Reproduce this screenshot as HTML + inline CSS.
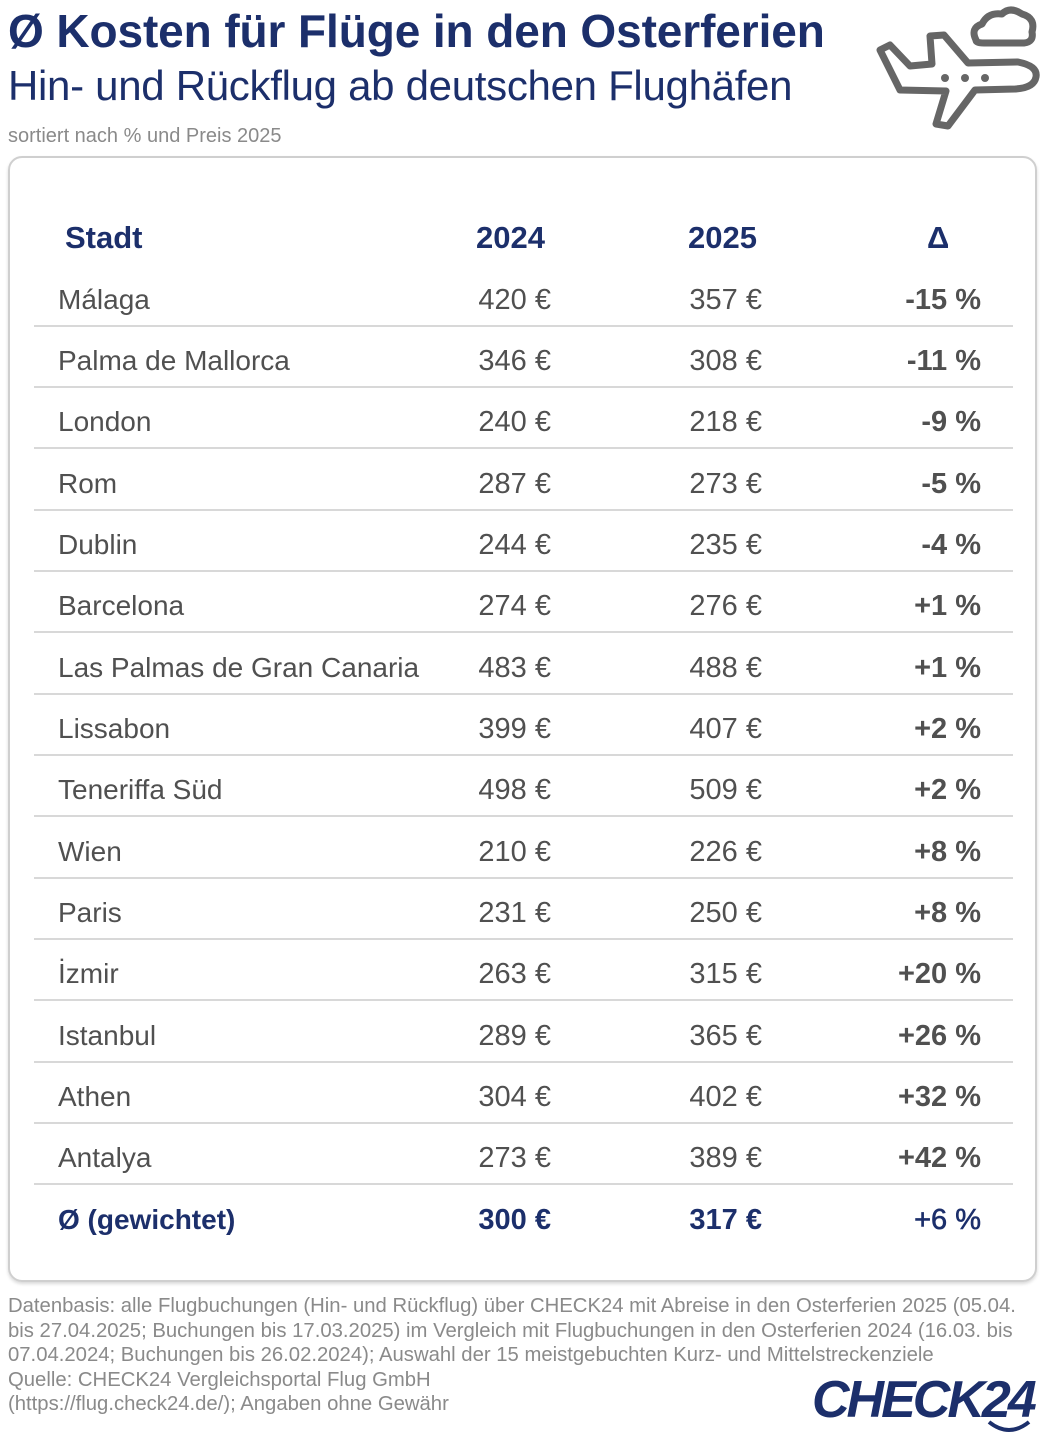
<!DOCTYPE html>
<html><head><meta charset="utf-8"><style>
body{margin:0;width:1045px;height:1440px;background:#fff;position:relative;font-family:"Liberation Sans",sans-serif;overflow:hidden}
.a{position:absolute;white-space:nowrap}
.t{left:8px;top:4px;font-size:46px;font-weight:bold;color:#1c2f6b;letter-spacing:-0.1px}
.s{left:8px;top:62px;font-size:42px;color:#1c2f6b;letter-spacing:-0.3px}
.n{left:8px;top:125px;font-size:20px;color:#8a8a8a}
.box{position:absolute;left:8px;top:156px;width:1025px;height:1122px;border:2px solid #cfcfcf;border-radius:14px;box-shadow:0 2px 3px rgba(0,0,0,.15)}
.row{position:absolute;left:34px;width:979px;height:61px;border-bottom:2px solid #d8d8d8;font-size:28px;color:#505050}
.row span{position:absolute;top:20px}
.c1{left:24px}.c2{right:462px;font-size:29px}.c3{right:251px;font-size:29px}.c4{right:32px;font-weight:bold;font-size:29px}
.h{font-weight:bold;color:#1c2f6b;font-size:31px}
.f{left:8px;top:1294px;font-size:20.3px;line-height:24.5px;color:#8a8a8a}
</style></head><body>
<div class="a t">Ø Kosten für Flüge in den Osterferien</div>
<div class="a s">Hin- und Rückflug ab deutschen Flughäfen</div>
<div class="a n">sortiert nach % und Preis 2025</div>
<svg class="a" style="left:860px;top:0" width="185" height="140" viewBox="860 0 185 140">
<g fill="none" stroke="#666" stroke-width="7" stroke-linejoin="round" stroke-linecap="round">
<path d="M880 50 L890 45 L910 66 L932 64 L930 36 L944 35 L968 63 L1018 62 Q1038 66 1036 77 Q1034 88 1015 89 L975 90 L948 126 L936 124 L946 91 L900 90 Z"/>
<path d="M976 40 Q970 28 982 24 Q988 12 1002 14 Q1010 6 1022 14 Q1036 18 1032 32 Q1034 42 1024 43 L984 43 Q976 43 976 40 Z"/>
</g>
<g fill="#666"><circle cx="945" cy="78" r="4"/><circle cx="965" cy="78" r="4"/><circle cx="985" cy="78" r="4"/></g>
</svg>
<div class="box"></div>
<div class="row h" style="top:200px;border:none"><span class="c1" style="left:31px">Stadt</span><span style="left:442px">2024</span><span style="left:654px">2025</span><span style="left:893px">Δ</span></div>
<div class="row" style="top:264px"><span class="c1">Málaga</span><span class="c2">420 €</span><span class="c3">357 €</span><span class="c4">-15 %</span></div>
<div class="row" style="top:325px"><span class="c1">Palma de Mallorca</span><span class="c2">346 €</span><span class="c3">308 €</span><span class="c4">-11 %</span></div>
<div class="row" style="top:386px"><span class="c1">London</span><span class="c2">240 €</span><span class="c3">218 €</span><span class="c4">-9 %</span></div>
<div class="row" style="top:448px"><span class="c1">Rom</span><span class="c2">287 €</span><span class="c3">273 €</span><span class="c4">-5 %</span></div>
<div class="row" style="top:509px"><span class="c1">Dublin</span><span class="c2">244 €</span><span class="c3">235 €</span><span class="c4">-4 %</span></div>
<div class="row" style="top:570px"><span class="c1">Barcelona</span><span class="c2">274 €</span><span class="c3">276 €</span><span class="c4">+1 %</span></div>
<div class="row" style="top:632px"><span class="c1">Las Palmas de Gran Canaria</span><span class="c2">483 €</span><span class="c3">488 €</span><span class="c4">+1 %</span></div>
<div class="row" style="top:693px"><span class="c1">Lissabon</span><span class="c2">399 €</span><span class="c3">407 €</span><span class="c4">+2 %</span></div>
<div class="row" style="top:754px"><span class="c1">Teneriffa Süd</span><span class="c2">498 €</span><span class="c3">509 €</span><span class="c4">+2 %</span></div>
<div class="row" style="top:816px"><span class="c1">Wien</span><span class="c2">210 €</span><span class="c3">226 €</span><span class="c4">+8 %</span></div>
<div class="row" style="top:877px"><span class="c1">Paris</span><span class="c2">231 €</span><span class="c3">250 €</span><span class="c4">+8 %</span></div>
<div class="row" style="top:938px"><span class="c1">İzmir</span><span class="c2">263 €</span><span class="c3">315 €</span><span class="c4">+20 %</span></div>
<div class="row" style="top:1000px"><span class="c1">Istanbul</span><span class="c2">289 €</span><span class="c3">365 €</span><span class="c4">+26 %</span></div>
<div class="row" style="top:1061px"><span class="c1">Athen</span><span class="c2">304 €</span><span class="c3">402 €</span><span class="c4">+32 %</span></div>
<div class="row" style="top:1122px"><span class="c1">Antalya</span><span class="c2">273 €</span><span class="c3">389 €</span><span class="c4">+42 %</span></div>
<div class="row" style="top:1184px;border:none;color:#1c2f6b;font-weight:bold"><span class="c1">Ø (gewichtet)</span><span class="c2">300 €</span><span class="c3">317 €</span><span class="c4" style="font-weight:normal;-webkit-text-stroke:0.6px #1c2f6b">+6 %</span></div>
<div class="a f">Datenbasis: alle Flugbuchungen (Hin- und Rückflug) über CHECK24 mit Abreise in den Osterferien 2025 (05.04.<br>bis 27.04.2025; Buchungen bis 17.03.2025) im Vergleich mit Flugbuchungen in den Osterferien 2024 (16.03. bis<br>07.04.2024; Buchungen bis 26.02.2024); Auswahl der 15 meistgebuchten Kurz- und Mittelstreckenziele<br>Quelle: CHECK24 Vergleichsportal Flug GmbH<br>(https://flug.check24.de/); Angaben ohne Gewähr</div>
<div class="a" style="left:812px;top:1370px;font-size:52px;font-weight:bold;font-style:italic;color:#1c2f6b;letter-spacing:-3px">CHECK24</div>
<svg class="a" style="left:985px;top:1418px" width="50" height="20"><path d="M4 4 Q24 20 44 4" fill="none" stroke="#1c2f6b" stroke-width="4"/></svg>
</body></html>
